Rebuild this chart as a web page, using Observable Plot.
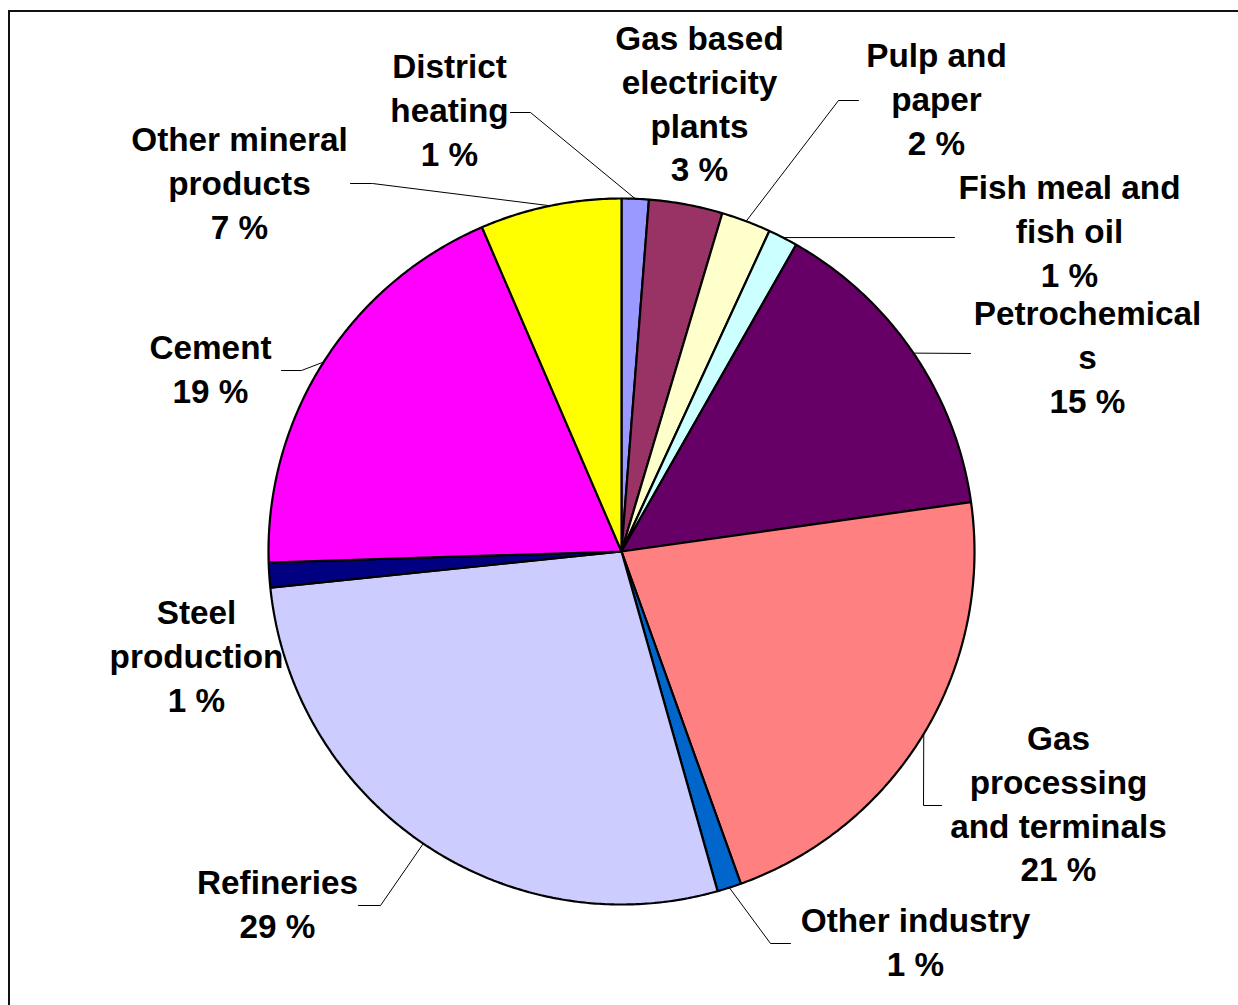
<!DOCTYPE html>
<html><head><meta charset="utf-8">
<script src="https://cdn.jsdelivr.net/npm/d3@7"></script>
<script src="https://cdn.jsdelivr.net/npm/@observablehq/plot@0.6"></script>
<style>
html,body{margin:0;padding:0;background:#fff;}
#wrap{position:relative;width:1238px;height:1005px;overflow:hidden;}
#chart{position:absolute;left:0;top:0;}
#frame{position:absolute;left:8px;top:10px;right:-10px;bottom:-10px;border-top:2px solid #111;border-left:2px solid #111;pointer-events:none;}
</style></head><body>
<div id="wrap"><div id="chart"></div><div id="frame"></div></div>
<script>
// ---- data (clockwise from 12 o'clock) ----
const categories = [
  "District\nheating",
  "Gas based\nelectricity\nplants",
  "Pulp and\npaper",
  "Fish meal and\nfish oil",
  "Petrochemical\ns",
  "Gas\nprocessing\nand terminals",
  "Other industry",
  "Refineries",
  "Steel\nproduction",
  "Cement",
  "Other mineral\nproducts"
];
const shares = [1.24, 3.37, 2.27, 1.36, 14.53, 21.75, 1.10, 27.76, 1.14, 19.03, 6.47];
const pctLabels = [1, 3, 2, 1, 15, 21, 1, 29, 1, 19, 7];
const colors = ["#9999FF", "#993366", "#FFFFCC", "#CCFFFF", "#660066", "#FF8080",
                "#0066CC", "#CCCCFF", "#000080", "#FF00FF", "#FFFF00"];

// ---- layout (page pixels) ----
const cx = 621, cy = 551, R = 353;
const labelAt = [[449,107],[699,101],[936,96],[1069,228],[1087,354],[1058,801],
                 [915,939],[277,901],[196,653],[210,366],[239,180]];
const leaderTail = [
  [[530,112],[510,112]],
  null,
  [[838,100],[858,100]],
  [[954,237]],
  [[970,353]],
  [[923,805],[941,805]],
  [[770,943],[790,943]],
  [[380,905],[358,905]],
  null,
  [[301,370],[281,370]],
  [[372,183],[350,183]]
];

const ux = px => (px - cx) / R;
const uy = py => (cy - py) / R;

const total = d3.sum(shares);
const slicePts = [];
const mids = [];
let acc = 0;
categories.forEach((c, i) => {
  const a0 = acc / total * 2 * Math.PI;
  acc += shares[i];
  const a1 = acc / total * 2 * Math.PI;
  mids.push((a0 + a1) / 2);
  slicePts.push({name: c, x: 0, y: 0});
  const n = Math.max(2, Math.ceil((a1 - a0) / (Math.PI / 360)));
  for (let k = 0; k <= n; k++) {
    const a = a0 + (a1 - a0) * k / n;
    slicePts.push({name: c, x: Math.sin(a), y: Math.cos(a)});
  }
  slicePts.push({name: c, x: 0, y: 0});
});

const leaderPts = [];
categories.forEach((c, i) => {
  if (!leaderTail[i]) return;
  leaderPts.push({name: c, x: Math.sin(mids[i]), y: Math.cos(mids[i])});
  leaderTail[i].forEach(([px, py]) => leaderPts.push({name: c, x: ux(px), y: uy(py)}));
});

const labels = categories.map((c, i) => ({
  name: c,
  text: c + "\n" + pctLabels[i] + " %",
  x: ux(labelAt[i][0]),
  y: uy(labelAt[i][1])
}));

const chart = Plot.plot({
  width: 1238,
  height: 1005,
  margin: 0,
  x: {domain: [-1, 1], range: [cx - R, cx + R], axis: null},
  y: {domain: [-1, 1], range: [cy + R, cy - R], axis: null},
  color: {domain: categories, range: colors},
  style: {background: "transparent", overflow: "visible"},
  marks: [
    Plot.line(slicePts, {x: "x", y: "y", z: "name", fill: "name", stroke: "#000",
                         strokeWidth: 2.2, strokeLinejoin: "miter", curve: "linear"}),
    Plot.line(leaderPts, {x: "x", y: "y", z: "name", stroke: "#000", strokeWidth: 1, curve: "linear"}),
    Plot.text(labels, {x: "x", y: "y", text: "text", fontSize: 33.3, fontWeight: "bold",
                       fontFamily: "'Liberation Sans', Arial, sans-serif", lineHeight: 1.32,
                       lineAnchor: "middle", textAnchor: "middle", fill: "#000"})
  ]
});
document.getElementById("chart").appendChild(chart);
</script>
</body></html>
